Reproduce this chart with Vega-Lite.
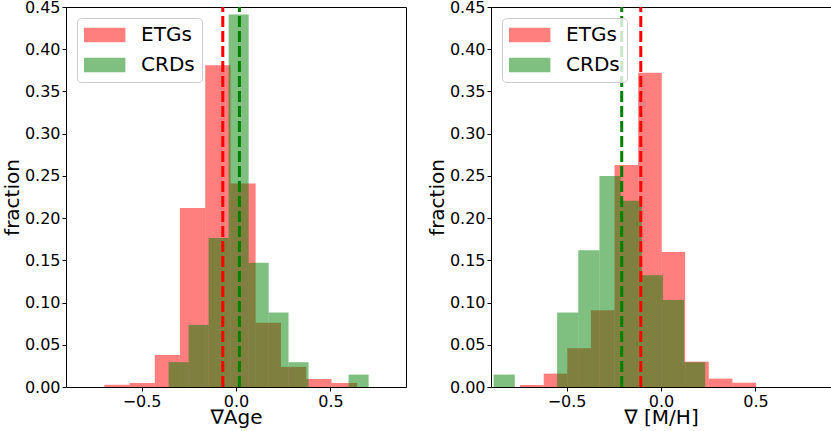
{
  "$schema": "https://vega.github.io/schema/vega-lite/v6.json",
  "description": "Histograms of age and metallicity gradients for ETGs and CRDs, with dashed mean lines.",
  "background": "white",
  "padding": {"left": 1, "top": -2, "right": 0, "bottom": 0},
  "datasets": {
    "bars": [
      {"panel": "age", "group": "ETGs", "x0": -0.697, "x1": -0.564, "frac": 0.0026},
      {"panel": "age", "group": "ETGs", "x0": -0.564, "x1": -0.430, "frac": 0.0048},
      {"panel": "age", "group": "ETGs", "x0": -0.430, "x1": -0.297, "frac": 0.038},
      {"panel": "age", "group": "ETGs", "x0": -0.297, "x1": -0.163, "frac": 0.212},
      {"panel": "age", "group": "ETGs", "x0": -0.163, "x1": -0.029, "frac": 0.381},
      {"panel": "age", "group": "ETGs", "x0": -0.029, "x1": 0.104, "frac": 0.241},
      {"panel": "age", "group": "ETGs", "x0": 0.104, "x1": 0.238, "frac": 0.076},
      {"panel": "age", "group": "ETGs", "x0": 0.238, "x1": 0.372, "frac": 0.0238},
      {"panel": "age", "group": "ETGs", "x0": 0.372, "x1": 0.506, "frac": 0.0095},
      {"panel": "age", "group": "ETGs", "x0": 0.506, "x1": 0.641, "frac": 0.0048},
      {"panel": "age", "group": "CRDs", "x0": -0.357, "x1": -0.251, "frac": 0.0294},
      {"panel": "age", "group": "CRDs", "x0": -0.251, "x1": -0.145, "frac": 0.0735},
      {"panel": "age", "group": "CRDs", "x0": -0.145, "x1": -0.039, "frac": 0.1765},
      {"panel": "age", "group": "CRDs", "x0": -0.039, "x1": 0.067, "frac": 0.4412},
      {"panel": "age", "group": "CRDs", "x0": 0.067, "x1": 0.173, "frac": 0.1471},
      {"panel": "age", "group": "CRDs", "x0": 0.173, "x1": 0.278, "frac": 0.0882},
      {"panel": "age", "group": "CRDs", "x0": 0.278, "x1": 0.384, "frac": 0.0294},
      {"panel": "age", "group": "CRDs", "x0": 0.596, "x1": 0.702, "frac": 0.0147},
      {"panel": "mh", "group": "ETGs", "x0": -0.746, "x1": -0.621, "frac": 0.0024},
      {"panel": "mh", "group": "ETGs", "x0": -0.621, "x1": -0.496, "frac": 0.0158},
      {"panel": "mh", "group": "ETGs", "x0": -0.496, "x1": -0.371, "frac": 0.046},
      {"panel": "mh", "group": "ETGs", "x0": -0.371, "x1": -0.246, "frac": 0.091},
      {"panel": "mh", "group": "ETGs", "x0": -0.246, "x1": -0.121, "frac": 0.263},
      {"panel": "mh", "group": "ETGs", "x0": -0.121, "x1": 0.004, "frac": 0.372},
      {"panel": "mh", "group": "ETGs", "x0": 0.004, "x1": 0.128, "frac": 0.160},
      {"panel": "mh", "group": "ETGs", "x0": 0.128, "x1": 0.253, "frac": 0.030},
      {"panel": "mh", "group": "ETGs", "x0": 0.253, "x1": 0.378, "frac": 0.0099},
      {"panel": "mh", "group": "ETGs", "x0": 0.378, "x1": 0.503, "frac": 0.0051},
      {"panel": "mh", "group": "CRDs", "x0": -0.886, "x1": -0.774, "frac": 0.0147},
      {"panel": "mh", "group": "CRDs", "x0": -0.550, "x1": -0.438, "frac": 0.0882},
      {"panel": "mh", "group": "CRDs", "x0": -0.438, "x1": -0.326, "frac": 0.1618},
      {"panel": "mh", "group": "CRDs", "x0": -0.326, "x1": -0.214, "frac": 0.25},
      {"panel": "mh", "group": "CRDs", "x0": -0.214, "x1": -0.102, "frac": 0.2206},
      {"panel": "mh", "group": "CRDs", "x0": -0.102, "x1": 0.010, "frac": 0.1324},
      {"panel": "mh", "group": "CRDs", "x0": 0.010, "x1": 0.122, "frac": 0.1029},
      {"panel": "mh", "group": "CRDs", "x0": 0.122, "x1": 0.234, "frac": 0.0294}
    ],
    "means": [
      {"panel": "age", "group": "ETGs", "mean": -0.070},
      {"panel": "age", "group": "CRDs", "mean": 0.018},
      {"panel": "mh", "group": "ETGs", "mean": -0.107},
      {"panel": "mh", "group": "CRDs", "mean": -0.208}
    ]
  },
  "spacing": 19,
  "resolve": {"legend": {"color": "independent"}},
  "hconcat": [
    {
      "width": 340,
      "height": 380,
      "layer": [
        {
          "data": {"name": "bars"},
          "transform": [{"filter": "datum.panel == 'age'"}],
          "mark": {"type": "bar", "opacity": 0.5},
          "encoding": {
            "x": {"field": "x0", "type": "quantitative", "scale": {"domain": [-0.9, 0.9], "nice": false, "zero": false},
                  "axis": {"values": [-0.5, 0, 0.5], "format": ".1f", "title": "∇Age"}},
            "x2": {"field": "x1"},
            "y": {"field": "frac", "type": "quantitative", "stack": null, "scale": {"domain": [0, 0.45], "nice": false},
                  "axis": {"values": [0, 0.05, 0.1, 0.15, 0.2, 0.25, 0.3, 0.35, 0.4, 0.45], "format": ".2f", "title": "fraction"}},
            "y2": {"datum": 0},
            "color": {"field": "group", "type": "nominal", "scale": {"domain": ["ETGs", "CRDs"], "range": ["#ff0000", "#008000"]},
                      "legend": {"title": null}}
          }
        },
        {
          "data": {"name": "means"},
          "transform": [{"filter": "datum.panel == 'age'"}],
          "mark": {"type": "rule", "strokeWidth": 3, "strokeDash": [11, 4]},
          "encoding": {
            "x": {"field": "mean", "type": "quantitative", "axis": {"title": "∇Age"}},
            "y": {"datum": 0, "type": "quantitative", "axis": {"title": "fraction"}},
            "y2": {"datum": 0.45},
            "stroke": {"field": "group", "type": "nominal", "scale": {"domain": ["ETGs", "CRDs"], "range": ["#ff0000", "#008000"]}, "legend": null}
          }
        }
      ]
    },
    {
      "width": 340,
      "height": 380,
      "layer": [
        {
          "data": {"name": "bars"},
          "transform": [{"filter": "datum.panel == 'mh'"}],
          "mark": {"type": "bar", "opacity": 0.5},
          "encoding": {
            "x": {"field": "x0", "type": "quantitative", "scale": {"domain": [-0.9, 0.9], "nice": false, "zero": false},
                  "axis": {"values": [-0.5, 0, 0.5], "format": ".1f", "title": "∇ [M/H]"}},
            "x2": {"field": "x1"},
            "y": {"field": "frac", "type": "quantitative", "stack": null, "scale": {"domain": [0, 0.45], "nice": false},
                  "axis": {"values": [0, 0.05, 0.1, 0.15, 0.2, 0.25, 0.3, 0.35, 0.4, 0.45], "format": ".2f", "title": "fraction"}},
            "y2": {"datum": 0},
            "color": {"field": "group", "type": "nominal", "scale": {"domain": ["ETGs", "CRDs"], "range": ["#ff0000", "#008000"]},
                      "legend": {"title": null}}
          }
        },
        {
          "data": {"name": "means"},
          "transform": [{"filter": "datum.panel == 'mh'"}],
          "mark": {"type": "rule", "strokeWidth": 3, "strokeDash": [11, 4]},
          "encoding": {
            "x": {"field": "mean", "type": "quantitative", "axis": {"title": "∇ [M/H]"}},
            "y": {"datum": 0, "type": "quantitative", "axis": {"title": "fraction"}},
            "y2": {"datum": 0.45},
            "stroke": {"field": "group", "type": "nominal", "scale": {"domain": ["ETGs", "CRDs"], "range": ["#ff0000", "#008000"]}, "legend": null}
          }
        }
      ]
    }
  ],
  "config": {
    "font": "DejaVu Sans",
    "view": {"stroke": "black", "strokeWidth": 1},
    "axis": {
      "domain": false,
      "grid": false,
      "tickColor": "black",
      "tickSize": 4,
      "labelFont": "DejaVu Sans",
      "labelFontSize": 16,
      "labelColor": "black",
      "titleFont": "DejaVu Sans",
      "titleFontSize": 20,
      "titleFontWeight": "normal",
      "titleColor": "black"
    },
    "axisY": {"labelPadding": 2, "titlePadding": 2, "minExtent": 42, "maxExtent": 42},
    "axisX": {"labelPadding": 2, "titlePadding": 0, "minExtent": 20, "maxExtent": 20},
    "legend": {
      "orient": "top-left",
      "offset": 11,
      "padding": 7,
      "rowPadding": 10,
      "symbolType": "M-2.07,-0.715H2.07V0.715H-2.07Z",
      "symbolSize": 400,
      "symbolOffset": 10.7,
      "symbolOpacity": 0.5,
      "symbolStrokeWidth": 0,
      "labelOffset": 26.4,
      "labelFont": "DejaVu Sans",
      "labelFontSize": 20,
      "labelColor": "black",
      "fillColor": "rgba(255,255,255,0.8)",
      "strokeColor": "#cccccc",
      "cornerRadius": 4
    }
  }
}
